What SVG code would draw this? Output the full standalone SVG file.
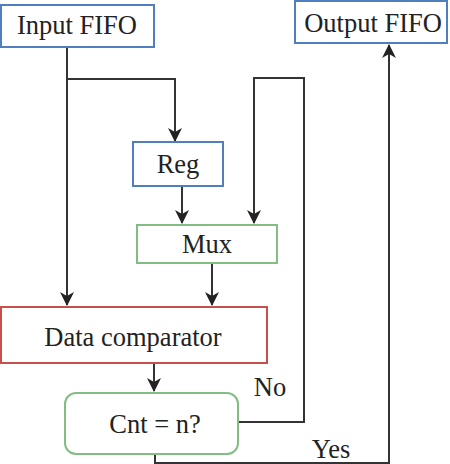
<svg xmlns="http://www.w3.org/2000/svg" width="450" height="464" viewBox="0 0 450 464">
<style>
.box{fill:#fff;stroke-width:2}
.blue{stroke:#4f7fbf}
.green{stroke:#82bd82}
.red{stroke:#c8504c}
.t{font-family:"Liberation Serif",serif;font-size:26.5px;fill:#222;text-anchor:middle}
.c{fill:none;stroke:#333;stroke-width:2}
</style>
<defs>
<marker id="ah" markerWidth="14" markerHeight="14" viewBox="0 0 14 14" refX="13" refY="7" orient="auto" markerUnits="userSpaceOnUse">
<path d="M0,0 L14,7 L0,14 L4,7 z" fill="#222"/>
</marker>
</defs>
<rect width="450" height="464" fill="#fff"/>
<g id="connectors">
<path class="c" d="M67,47 V305" marker-end="url(#ah)"/>
<path class="c" d="M67,79 H175 V141" marker-end="url(#ah)"/>
<path class="c" d="M182,186 V223" marker-end="url(#ah)"/>
<path class="c" d="M238,422 H304 V78 H254 V223" marker-end="url(#ah)"/>
<path class="c" d="M212,263 V305" marker-end="url(#ah)"/>
<path class="c" d="M154,363 V391" marker-end="url(#ah)"/>
<path class="c" d="M155,454 V463 H389 V45" marker-end="url(#ah)"/>
</g>
<g id="input-fifo">
<rect class="box blue" x="1" y="5" width="153" height="42"/>
<text class="t" x="77" y="34">Input FIFO</text>
</g>
<g id="output-fifo">
<rect class="box blue" x="295" y="1" width="152" height="42"/>
<text class="t" x="373" y="32">Output FIFO</text>
</g>
<g id="reg">
<rect class="box blue" x="133" y="142" width="90" height="44"/>
<text class="t" x="178" y="173">Reg</text>
</g>
<g id="mux">
<rect class="box green" x="137" y="225" width="140" height="38"/>
<text class="t" x="207" y="253">Mux</text>
</g>
<g id="data-comparator">
<rect class="box red" x="1" y="307" width="266" height="56"/>
<text class="t" x="133" y="346">Data comparator</text>
</g>
<g id="cnt">
<rect class="box green" x="65" y="393" width="173" height="61" rx="11"/>
<text class="t" x="155" y="433">Cnt = n?</text>
</g>
<g id="labels">
<text class="t" x="270" y="396">No</text>
<text class="t" x="331" y="458">Yes</text>
</g>
</svg>
